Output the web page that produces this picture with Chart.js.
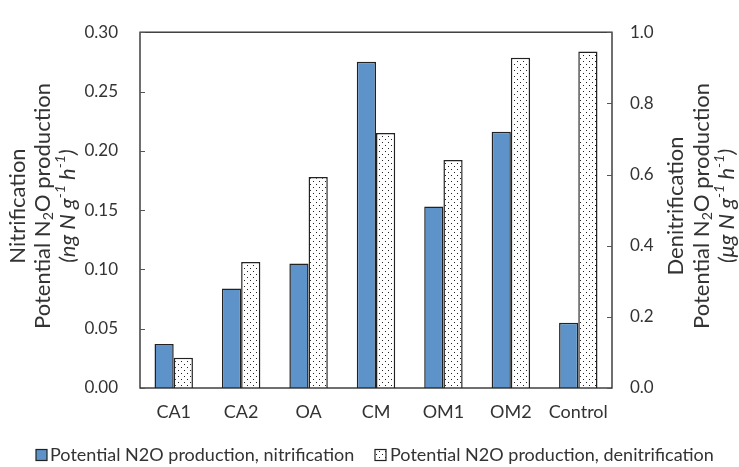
<!DOCTYPE html>
<html>
<head>
<meta charset="utf-8">
<script src="https://cdn.jsdelivr.net/npm/chart.js@4.4.1/dist/chart.umd.min.js"></script>
<style>
  html, body { margin: 0; padding: 0; background: #fff; }
  #wrap { width: 739px; height: 467px; }
</style>
</head>
<body>
<div id="wrap"><canvas id="chart"></canvas></div>
<script>
const categories = ["CA1", "CA2", "OA", "CM", "OM1", "OM2", "Control"];
const nitrification = [0.037, 0.084, 0.105, 0.275, 0.153, 0.216, 0.055];
const denitrification = [0.085, 0.354, 0.593, 0.717, 0.641, 0.928, 0.946];
const leftTicks = [0, 0.05, 0.10, 0.15, 0.20, 0.25, 0.30];
const rightTicks = [0, 0.2, 0.4, 0.6, 0.8, 1.0];
const seriesNames = ["Potential N2O production, nitrification", "Potential N2O production, denitrification"];

const FONT = "Lato, 'Liberation Sans', sans-serif";
const TEXT = "#333";
const BLUE = "#5d93c9";

function dotPattern() {
    const c = document.createElement("canvas");
    c.width = 6;
    c.height = 6;
    const g = c.getContext("2d");
    g.fillStyle = "#fff";
    g.fillRect(0, 0, 6, 6);
    g.fillStyle = "#222";
    g.fillRect(1, 1, 1, 1);
    g.fillRect(4, 4, 1, 1);
    return g.createPattern(c, "repeat");
}
const dots = dotPattern();

// one line of text with sub/superscripts, centred on (0, 0) after rotation
function drawRich(ctx, parts, size) {
    const fontOf = p => (p.i ? "italic " : "") + (p.sub || p.sup ? size * 0.65 : size) + "px " + FONT;
    const widths = parts.map(p => {
        ctx.font = fontOf(p);
        return ctx.measureText(p.t).width;
    });
    let x = -widths.reduce((a, b) => a + b, 0) / 2;
    parts.forEach((p, k) => {
        ctx.font = fontOf(p);
        let dy = 0;
        if (p.sub) dy = size * 0.25;
        if (p.sup) dy = -size * 0.35;
        ctx.fillText(p.t, x, dy);
        x += widths[k];
    });
}

const leftTitle = [
    [{ t: "Nitrification" }],
    [{ t: "Potential N" }, { t: "2", sub: true }, { t: "O production" }],
    [{ t: "(ng N g", i: true }, { t: "-1", sup: true, i: true }, { t: " h", i: true }, { t: "-1", sup: true, i: true }, { t: ")", i: true }],
];
const rightTitle = [
    [{ t: "Denitrification" }],
    [{ t: "Potential N" }, { t: "2", sub: true }, { t: "O production" }],
    [{ t: "(\u03bcg N g", i: true }, { t: "-1", sup: true, i: true }, { t: " h", i: true }, { t: "-1", sup: true, i: true }, { t: ")", i: true }],
];

const framePlugin = {
    id: "frame",
    afterDraw(chart) {
        const ctx = chart.ctx;
        const a = chart.chartArea;
        const yl = chart.scales.y;
        const yr = chart.scales.y2;
        ctx.save();
        ctx.strokeStyle = "#222";
        ctx.lineWidth = 1.3;
        ctx.strokeRect(a.left, a.top, a.right - a.left, a.bottom - a.top);
        ctx.lineWidth = 1;
        ctx.strokeStyle = "#555";
        leftTicks.forEach(v => {
            const y = Math.round(yl.getPixelForValue(v)) + 0.5;
            ctx.beginPath();
            ctx.moveTo(a.left, y);
            ctx.lineTo(a.left + 5, y);
            ctx.stroke();
        });
        rightTicks.forEach(v => {
            const y = Math.round(yr.getPixelForValue(v)) + 0.5;
            ctx.beginPath();
            ctx.moveTo(a.right, y);
            ctx.lineTo(a.right - 5, y);
            ctx.stroke();
        });

        // axis titles
        ctx.fillStyle = TEXT;
        ctx.textBaseline = "middle";
        ctx.textAlign = "left";
        const cy = 206;
        [18, 43, 68].forEach((x, k) => {
            ctx.save();
            ctx.translate(x, cy);
            ctx.rotate(-Math.PI / 2);
            drawRich(ctx, leftTitle[k], 22);
            ctx.restore();
        });
        [676, 702, 727].forEach((x, k) => {
            ctx.save();
            ctx.translate(x, cy);
            ctx.rotate(-Math.PI / 2);
            drawRich(ctx, rightTitle[k], 22);
            ctx.restore();
        });

        // legend
        const ly = 455;
        const items = [
            { box: 36, text: 50, fill: BLUE },
            { box: 375, text: 390, fill: dots },
        ];
        ctx.font = "18px " + FONT;
        items.forEach((it, k) => {
            ctx.fillStyle = it.fill;
            ctx.fillRect(it.box, ly - 5.5, 11, 11);
            ctx.strokeStyle = "#222";
            ctx.lineWidth = 1.2;
            ctx.strokeRect(it.box, ly - 5.5, 11, 11);
            ctx.fillStyle = TEXT;
            ctx.fillText(seriesNames[k], it.text, ly);
        });
        ctx.restore();
    }
};

new Chart(document.getElementById("chart"), {
    type: "bar",
    data: {
        labels: categories,
        datasets: [
            {
                label: seriesNames[0],
                data: nitrification,
                yAxisID: "y",
                backgroundColor: BLUE,
                borderColor: "#222",
                borderWidth: 1.5,
                categoryPercentage: 0.57,
                barPercentage: 1.0,
            },
            {
                label: seriesNames[1],
                data: denitrification,
                yAxisID: "y2",
                backgroundColor: dots,
                borderColor: "#222",
                borderWidth: 1.5,
                categoryPercentage: 0.57,
                barPercentage: 1.0,
            },
        ],
    },
    options: {
        responsive: true,
        maintainAspectRatio: false,
        animation: false,
        layout: { padding: { top: 14, left: 0, right: 0, bottom: 29 } },
        plugins: {
            tooltip: { enabled: false },
            legend: { display: false },
        },
        scales: {
            x: {
                grid: { display: false, drawTicks: false },
                border: { display: false },
                ticks: { color: TEXT, font: { family: FONT, size: 18 }, padding: 13 },
                afterFit(scale) { scale.height = 50; },
            },
            y: {
                position: "left",
                min: 0,
                max: 0.3,
                grid: { display: false, drawTicks: false },
                border: { display: false },
                ticks: {
                    stepSize: 0.05,
                    color: TEXT,
                    font: { family: FONT, size: 17 },
                    padding: 22,
                    callback: v => v.toFixed(2),
                },
                afterFit(scale) { scale.width = 140; },
            },
            y2: {
                position: "right",
                min: 0,
                max: 1.0,
                grid: { display: false, drawTicks: false },
                border: { display: false },
                ticks: {
                    stepSize: 0.2,
                    color: TEXT,
                    font: { family: FONT, size: 17 },
                    padding: 18,
                    callback: v => v.toFixed(1),
                },
                afterFit(scale) { scale.width = 127; },
            },
        },
    },
    plugins: [framePlugin],
});
</script>
</body>
</html>
